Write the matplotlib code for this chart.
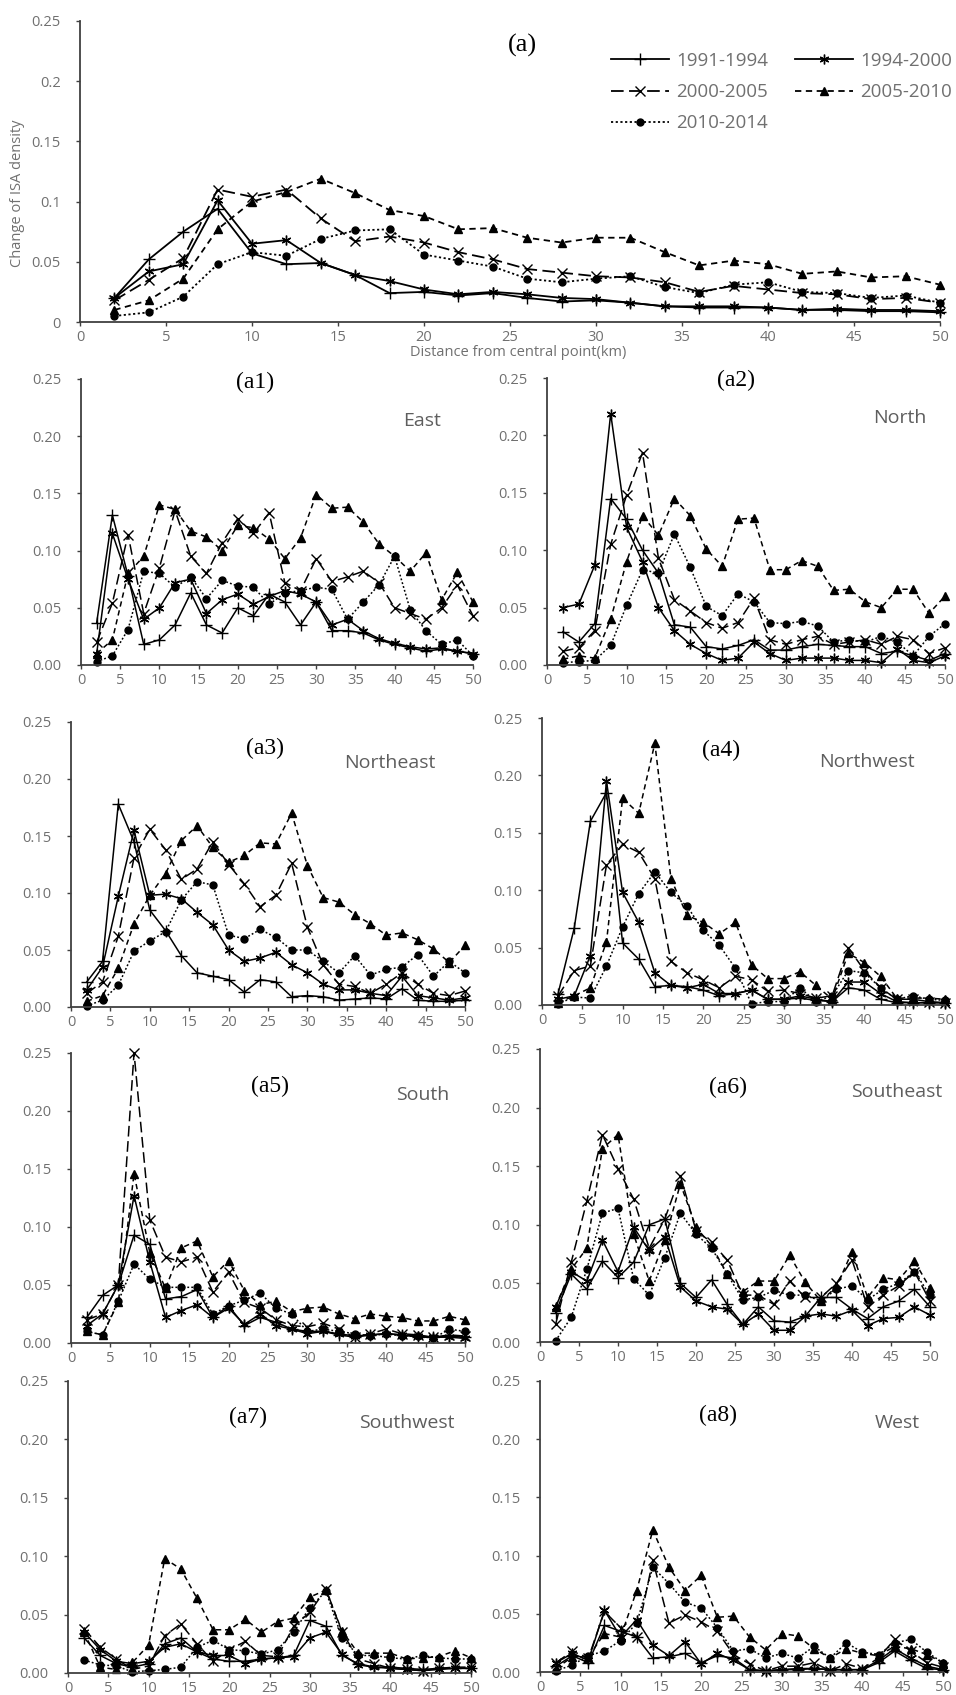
import matplotlib
matplotlib.use("Agg")
import matplotlib.pyplot as plt

W, H = 956, 1695

dist_km = [2, 4, 6, 8, 10, 12, 14, 16, 18, 20, 22, 24, 26, 28, 30, 32, 34, 36, 38, 40, 42, 44, 46, 48, 50]
periods = ["1991-1994", "1994-2000", "2000-2005", "2005-2010", "2010-2014"]

# (a) all directions
all_9194 = [0.020, 0.052, 0.075, 0.094, 0.057, 0.048, 0.049, 0.039, 0.024, 0.025, 0.022, 0.024, 0.020, 0.017, 0.018, 0.016, 0.013, 0.012, 0.012, 0.012, 0.010, 0.010, 0.009, 0.009, 0.008]
all_9400 = [0.020, 0.042, 0.048, 0.101, 0.065, 0.068, 0.049, 0.039, 0.034, 0.027, 0.023, 0.025, 0.023, 0.020, 0.019, 0.016, 0.013, 0.013, 0.013, 0.012, 0.010, 0.011, 0.010, 0.010, 0.009]
all_0005 = [0.018, 0.035, 0.053, 0.110, 0.104, 0.110, 0.086, 0.067, 0.071, 0.066, 0.058, 0.052, 0.044, 0.041, 0.038, 0.037, 0.033, 0.025, 0.030, 0.027, 0.024, 0.023, 0.019, 0.020, 0.016]
all_0510 = [0.010, 0.018, 0.036, 0.077, 0.100, 0.108, 0.119, 0.107, 0.093, 0.088, 0.077, 0.078, 0.070, 0.066, 0.070, 0.070, 0.058, 0.047, 0.051, 0.048, 0.040, 0.042, 0.037, 0.038, 0.031]
all_1014 = [0.005, 0.008, 0.021, 0.048, 0.058, 0.055, 0.069, 0.076, 0.077, 0.056, 0.051, 0.046, 0.036, 0.033, 0.036, 0.038, 0.029, 0.024, 0.031, 0.033, 0.025, 0.024, 0.020, 0.022, 0.016]

# (a1) East
east_9194 = [0.037, 0.131, 0.078, 0.018, 0.022, 0.035, 0.063, 0.035, 0.028, 0.050, 0.043, 0.062, 0.055, 0.035, 0.055, 0.030, 0.030, 0.028, 0.022, 0.018, 0.015, 0.012, 0.014, 0.012, 0.010]
east_9400 = [0.010, 0.115, 0.075, 0.040, 0.050, 0.072, 0.075, 0.045, 0.057, 0.062, 0.053, 0.060, 0.065, 0.062, 0.055, 0.035, 0.040, 0.030, 0.023, 0.019, 0.016, 0.014, 0.015, 0.012, 0.010]
east_0005 = [0.020, 0.054, 0.114, 0.045, 0.085, 0.135, 0.095, 0.080, 0.107, 0.128, 0.115, 0.133, 0.072, 0.065, 0.093, 0.073, 0.077, 0.082, 0.072, 0.050, 0.045, 0.040, 0.050, 0.070, 0.043]
east_0510 = [0.010, 0.022, 0.080, 0.095, 0.140, 0.136, 0.117, 0.112, 0.100, 0.122, 0.120, 0.110, 0.093, 0.111, 0.149, 0.137, 0.138, 0.125, 0.106, 0.095, 0.082, 0.098, 0.057, 0.081, 0.055]
east_1014 = [0.003, 0.008, 0.031, 0.082, 0.080, 0.068, 0.077, 0.058, 0.074, 0.069, 0.068, 0.053, 0.063, 0.065, 0.068, 0.066, 0.040, 0.055, 0.070, 0.095, 0.048, 0.030, 0.018, 0.022, 0.008]

# (a2) North
north_9194 = [0.029, 0.020, 0.036, 0.145, 0.127, 0.100, 0.080, 0.035, 0.033, 0.016, 0.014, 0.017, 0.022, 0.013, 0.013, 0.016, 0.018, 0.017, 0.016, 0.016, 0.010, 0.012, 0.008, 0.004, 0.010]
north_9400 = [0.050, 0.053, 0.087, 0.219, 0.120, 0.090, 0.050, 0.030, 0.018, 0.010, 0.004, 0.006, 0.020, 0.010, 0.004, 0.006, 0.006, 0.006, 0.004, 0.004, 0.002, 0.014, 0.004, 0.002, 0.008]
north_0005 = [0.012, 0.015, 0.030, 0.105, 0.148, 0.185, 0.093, 0.057, 0.047, 0.037, 0.032, 0.037, 0.058, 0.022, 0.018, 0.022, 0.025, 0.018, 0.020, 0.022, 0.018, 0.025, 0.022, 0.010, 0.015]
north_0510 = [0.005, 0.008, 0.006, 0.040, 0.090, 0.130, 0.113, 0.145, 0.130, 0.101, 0.086, 0.127, 0.128, 0.083, 0.083, 0.091, 0.086, 0.065, 0.066, 0.055, 0.050, 0.066, 0.066, 0.045, 0.060]
north_1014 = [0.002, 0.003, 0.004, 0.017, 0.052, 0.083, 0.080, 0.114, 0.085, 0.051, 0.043, 0.062, 0.055, 0.037, 0.036, 0.038, 0.034, 0.020, 0.022, 0.020, 0.025, 0.020, 0.008, 0.025, 0.036]

# (a3) Northeast
ne_9194 = [0.022, 0.040, 0.178, 0.145, 0.085, 0.067, 0.045, 0.030, 0.027, 0.024, 0.013, 0.024, 0.022, 0.009, 0.010, 0.009, 0.006, 0.007, 0.008, 0.007, 0.016, 0.006, 0.005, 0.005, 0.006]
ne_9400 = [0.015, 0.035, 0.097, 0.155, 0.098, 0.099, 0.095, 0.083, 0.072, 0.050, 0.040, 0.043, 0.048, 0.037, 0.030, 0.020, 0.015, 0.015, 0.012, 0.010, 0.027, 0.010, 0.008, 0.006, 0.008]
ne_0005 = [0.012, 0.022, 0.062, 0.131, 0.156, 0.138, 0.112, 0.121, 0.145, 0.125, 0.108, 0.088, 0.098, 0.126, 0.070, 0.037, 0.020, 0.018, 0.012, 0.020, 0.030, 0.020, 0.012, 0.010, 0.014]
ne_0510 = [0.005, 0.010, 0.034, 0.073, 0.098, 0.117, 0.146, 0.159, 0.140, 0.127, 0.133, 0.144, 0.143, 0.170, 0.124, 0.096, 0.092, 0.081, 0.073, 0.063, 0.065, 0.059, 0.051, 0.039, 0.054]
ne_1014 = [0.001, 0.006, 0.019, 0.049, 0.058, 0.066, 0.094, 0.110, 0.107, 0.063, 0.060, 0.068, 0.061, 0.050, 0.050, 0.040, 0.030, 0.045, 0.028, 0.033, 0.035, 0.046, 0.027, 0.040, 0.030]

# (a4) Northwest
nw_9194 = [0.010, 0.067, 0.160, 0.185, 0.054, 0.040, 0.016, 0.017, 0.016, 0.013, 0.008, 0.010, 0.013, 0.005, 0.005, 0.006, 0.004, 0.003, 0.015, 0.013, 0.005, 0.002, 0.002, 0.002, 0.002]
nw_9400 = [0.005, 0.008, 0.043, 0.195, 0.098, 0.072, 0.028, 0.017, 0.015, 0.018, 0.010, 0.010, 0.013, 0.005, 0.005, 0.008, 0.005, 0.003, 0.020, 0.020, 0.010, 0.003, 0.002, 0.002, 0.002]
nw_0005 = [0.008, 0.030, 0.034, 0.122, 0.140, 0.133, 0.110, 0.038, 0.028, 0.022, 0.015, 0.025, 0.022, 0.012, 0.013, 0.010, 0.006, 0.008, 0.050, 0.030, 0.015, 0.005, 0.005, 0.003, 0.002]
nw_0510 = [0.002, 0.008, 0.015, 0.055, 0.180, 0.167, 0.228, 0.110, 0.078, 0.072, 0.062, 0.072, 0.035, 0.023, 0.023, 0.029, 0.017, 0.005, 0.045, 0.037, 0.025, 0.006, 0.006, 0.006, 0.005]
nw_1014 = [0.001, 0.007, 0.006, 0.034, 0.068, 0.097, 0.116, 0.098, 0.086, 0.065, 0.052, 0.032, 0.001, 0.003, 0.003, 0.015, 0.003, 0.008, 0.030, 0.028, 0.015, 0.005, 0.008, 0.005, 0.004]

# (a5) South
south_9194 = [0.022, 0.041, 0.050, 0.093, 0.085, 0.038, 0.040, 0.046, 0.022, 0.032, 0.015, 0.022, 0.018, 0.012, 0.010, 0.010, 0.007, 0.005, 0.007, 0.008, 0.007, 0.005, 0.005, 0.006, 0.005]
south_9400 = [0.015, 0.025, 0.050, 0.127, 0.070, 0.022, 0.028, 0.033, 0.022, 0.030, 0.016, 0.025, 0.015, 0.012, 0.008, 0.010, 0.008, 0.006, 0.007, 0.008, 0.007, 0.006, 0.005, 0.005, 0.004]
south_0005 = [0.020, 0.025, 0.050, 0.250, 0.106, 0.074, 0.070, 0.074, 0.044, 0.061, 0.035, 0.030, 0.020, 0.015, 0.014, 0.017, 0.012, 0.005, 0.008, 0.012, 0.008, 0.007, 0.005, 0.007, 0.006]
south_0510 = [0.010, 0.007, 0.035, 0.146, 0.078, 0.047, 0.082, 0.088, 0.057, 0.071, 0.045, 0.033, 0.036, 0.027, 0.030, 0.031, 0.025, 0.021, 0.025, 0.023, 0.022, 0.019, 0.019, 0.023, 0.020]
south_1014 = [0.010, 0.007, 0.036, 0.068, 0.055, 0.048, 0.048, 0.048, 0.025, 0.032, 0.037, 0.043, 0.030, 0.025, 0.010, 0.012, 0.010, 0.008, 0.006, 0.008, 0.006, 0.006, 0.004, 0.012, 0.010]

# (a6) Southeast
se_9194 = [0.025, 0.058, 0.045, 0.069, 0.055, 0.068, 0.100, 0.105, 0.050, 0.038, 0.053, 0.032, 0.015, 0.030, 0.018, 0.017, 0.022, 0.038, 0.038, 0.028, 0.020, 0.030, 0.035, 0.045, 0.030]
se_9400 = [0.030, 0.060, 0.052, 0.087, 0.060, 0.098, 0.078, 0.090, 0.047, 0.035, 0.030, 0.028, 0.015, 0.024, 0.010, 0.010, 0.022, 0.024, 0.022, 0.027, 0.014, 0.020, 0.021, 0.030, 0.023]
se_0005 = [0.015, 0.068, 0.120, 0.177, 0.148, 0.122, 0.080, 0.105, 0.142, 0.095, 0.085, 0.070, 0.040, 0.040, 0.032, 0.052, 0.038, 0.038, 0.050, 0.070, 0.030, 0.040, 0.048, 0.060, 0.035]
se_0510 = [0.030, 0.062, 0.080, 0.165, 0.177, 0.092, 0.052, 0.087, 0.135, 0.098, 0.082, 0.058, 0.043, 0.052, 0.052, 0.074, 0.051, 0.035, 0.047, 0.077, 0.038, 0.055, 0.053, 0.069, 0.046]
se_1014 = [0.001, 0.021, 0.062, 0.110, 0.114, 0.054, 0.040, 0.072, 0.110, 0.092, 0.080, 0.058, 0.036, 0.038, 0.044, 0.040, 0.040, 0.035, 0.045, 0.048, 0.036, 0.045, 0.050, 0.060, 0.040]

# (a7) Southwest
sw_9194 = [0.030, 0.015, 0.008, 0.005, 0.008, 0.025, 0.030, 0.018, 0.012, 0.010, 0.010, 0.012, 0.013, 0.015, 0.045, 0.040, 0.015, 0.008, 0.005, 0.005, 0.004, 0.003, 0.004, 0.004, 0.004]
sw_9400 = [0.035, 0.020, 0.010, 0.008, 0.010, 0.022, 0.025, 0.018, 0.015, 0.015, 0.008, 0.012, 0.013, 0.014, 0.030, 0.035, 0.016, 0.007, 0.005, 0.004, 0.003, 0.002, 0.003, 0.004, 0.004]
sw_0005 = [0.038, 0.022, 0.012, 0.003, 0.006, 0.032, 0.042, 0.025, 0.010, 0.020, 0.027, 0.015, 0.014, 0.040, 0.052, 0.072, 0.035, 0.012, 0.008, 0.004, 0.003, 0.002, 0.004, 0.005, 0.005]
sw_0510 = [0.035, 0.005, 0.003, 0.009, 0.024, 0.098, 0.089, 0.064, 0.037, 0.037, 0.046, 0.035, 0.044, 0.047, 0.065, 0.071, 0.036, 0.017, 0.017, 0.017, 0.012, 0.013, 0.014, 0.019, 0.013]
sw_1014 = [0.011, 0.007, 0.006, 0.001, 0.002, 0.003, 0.005, 0.022, 0.028, 0.020, 0.019, 0.016, 0.020, 0.035, 0.056, 0.070, 0.030, 0.015, 0.015, 0.013, 0.012, 0.015, 0.013, 0.012, 0.012]

# (a8) West
west_9194 = [0.005, 0.014, 0.008, 0.040, 0.035, 0.030, 0.012, 0.013, 0.016, 0.008, 0.014, 0.012, 0.002, 0.001, 0.002, 0.002, 0.003, 0.002, 0.002, 0.002, 0.008, 0.018, 0.010, 0.003, 0.002]
west_9400 = [0.008, 0.016, 0.010, 0.053, 0.030, 0.045, 0.023, 0.014, 0.026, 0.007, 0.016, 0.010, 0.002, 0.001, 0.002, 0.003, 0.003, 0.002, 0.002, 0.002, 0.010, 0.020, 0.012, 0.005, 0.002]
west_0005 = [0.008, 0.018, 0.012, 0.052, 0.038, 0.030, 0.096, 0.042, 0.049, 0.043, 0.035, 0.015, 0.007, 0.001, 0.005, 0.005, 0.008, 0.001, 0.007, 0.003, 0.012, 0.028, 0.018, 0.008, 0.004]
west_0510 = [0.003, 0.013, 0.013, 0.033, 0.030, 0.070, 0.122, 0.090, 0.070, 0.083, 0.047, 0.048, 0.030, 0.019, 0.033, 0.031, 0.020, 0.012, 0.020, 0.016, 0.014, 0.022, 0.020, 0.015, 0.008]
west_1014 = [0.001, 0.006, 0.014, 0.018, 0.027, 0.042, 0.090, 0.076, 0.060, 0.055, 0.038, 0.018, 0.020, 0.012, 0.016, 0.012, 0.022, 0.012, 0.025, 0.017, 0.015, 0.025, 0.028, 0.017, 0.008]

# panel tags and direction names
tags = ["(a1)", "(a2)", "(a3)", "(a4)", "(a5)", "(a6)", "(a7)", "(a8)"]
directions = ["East", "North", "Northeast", "Northwest", "South", "Southeast", "Southwest", "West"]
panel_series = [
    [east_9194, east_9400, east_0005, east_0510, east_1014],
    [north_9194, north_9400, north_0005, north_0510, north_1014],
    [ne_9194, ne_9400, ne_0005, ne_0510, ne_1014],
    [nw_9194, nw_9400, nw_0005, nw_0510, nw_1014],
    [south_9194, south_9400, south_0005, south_0510, south_1014],
    [se_9194, se_9400, se_0005, se_0510, se_1014],
    [sw_9194, sw_9400, sw_0005, sw_0510, sw_1014],
    [west_9194, west_9400, west_0005, west_0510, west_1014],
]

# pixel layout: (left, right, top, bottom) of plot area, tag centre, direction centre
panel_boxes = [
    (81, 473, 379, 665), (547, 945, 378, 665),
    (71, 465, 722, 1007), (542, 945, 718, 1005),
    (71, 465, 1053, 1343), (540, 930, 1049, 1342),
    (68, 471, 1381, 1673), (540, 943, 1381, 1672),
]
tag_pos = [(255, 382), (736, 380), (265, 748), (721, 750), (270, 1086), (728, 1087), (248, 1417), (718, 1415)]
dir_pos = [(422, 421), (900, 418), (390, 763), (867, 762), (423, 1095), (897, 1092), (407, 1423), (897, 1423)]

GREY = "#707070"
SANS = ["Open Sans", "DejaVu Sans"]

line_styles = [
    dict(ls="-", marker="+", ms=8, mew=1.0),
    dict(ls="-", marker=(6, 2, 0), ms=7, mew=1.0),
    dict(ls=(0, (7, 3)), marker="x", ms=7, mew=1.0),
    dict(ls=(0, (3.5, 2.5)), marker="^", ms=6),
    dict(ls=(0, (1.2, 1.4)), marker="o", ms=5),
]

fig = plt.figure(figsize=(W / 100, H / 100), dpi=100)


def px_box(left, right, top, bottom):
    return [left / W, 1 - bottom / H, (right - left) / W, (bottom - top) / H]


def draw(ax, series, lw):
    handles = []
    for s, st, name in zip(series, line_styles, periods):
        h, = ax.plot(dist_km, s, color="black", lw=lw, label=name, clip_on=False, **st)
        handles.append(h)
    return handles


def style_axes(ax, ylabels, pad_x, pad_y):
    ax.set_xlim(0, 50)
    ax.set_ylim(0, 0.25)
    ax.set_xticks(range(0, 51, 5))
    ax.set_yticks([0, 0.05, 0.1, 0.15, 0.2, 0.25])
    ax.set_yticklabels(ylabels)
    for side in ["top", "right"]:
        ax.spines[side].set_visible(False)
    for side in ["left", "bottom"]:
        ax.spines[side].set_color("#404040")
        ax.spines[side].set_linewidth(1.3)
    ax.tick_params(direction="out", length=3, width=1, colors="#404040",
                   labelcolor=GREY, labelsize=10.5)
    ax.tick_params(axis="y", pad=pad_y)
    ax.tick_params(axis="x", pad=pad_x)
    for lab in ax.get_xticklabels() + ax.get_yticklabels():
        lab.set_family(SANS)
    ax.patch.set_alpha(0)


# top panel (a)
ax0 = fig.add_axes(px_box(80, 940, 21, 322))
handles = draw(ax0, [all_9194, all_9400, all_0005, all_0510, all_1014], 1.3)
style_axes(ax0, ["0", "0.05", "0.1", "0.15", "0.2", "0.25"], 3, 11)
fig.text(518 / W, 1 - 352 / H, "Distance from central point(km)", ha="center", va="center",
         fontsize=10.5, color=GREY, family=SANS)
fig.text(18 / W, 1 - 193 / H, "Change of ISA density", rotation=90, ha="center", va="center",
         fontsize=10.5, color=GREY, family=SANS)
fig.text(522 / W, 1 - 45 / H, "(a)", ha="center", va="center", fontsize=19,
         family="Liberation Serif")
order = [0, 2, 4, 1, 3]
ax0.legend([handles[i] for i in order], [periods[i] for i in order], ncol=2,
           loc="upper right", bbox_to_anchor=(952 / W, 1 - 52 / H), bbox_transform=fig.transFigure,
           frameon=False, handlelength=3.1, handletextpad=0.4,
           columnspacing=1.4, labelspacing=0.7, borderaxespad=0, borderpad=0,
           labelcolor=GREY, prop={"family": SANS, "size": 13.5})

# eight direction panels
for i in range(8):
    ax = fig.add_axes(px_box(*panel_boxes[i]))
    draw(ax, panel_series[i], 1.1)
    style_axes(ax, ["0.00", "0.05", "0.10", "0.15", "0.20", "0.25"], 3, 11)
    tx, ty = tag_pos[i]
    fig.text(tx / W, 1 - ty / H, tags[i], ha="center", va="center", fontsize=17,
             family="Liberation Serif")
    dx, dy = dir_pos[i]
    fig.text(dx / W, 1 - dy / H, directions[i], ha="center", va="center", fontsize=14,
             color="#5e5e5e", family=SANS)

fig.savefig("out.png", dpi=100)
